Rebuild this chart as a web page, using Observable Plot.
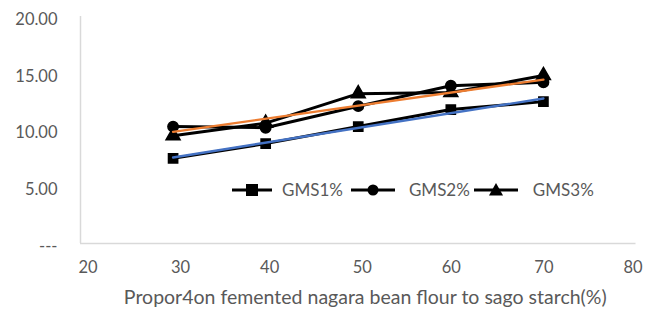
<!DOCTYPE html>
<html><head><meta charset="utf-8">
<script src="https://cdn.jsdelivr.net/npm/d3@7"></script>
<script src="https://cdn.jsdelivr.net/npm/@observablehq/plot@0.6"></script>
<style>
body{margin:0;background:#fff;font-family:Lato,"Open Sans",sans-serif;}
#wrap{position:relative;width:645px;height:313px;overflow:hidden;}
#legend{position:absolute;left:232px;top:179px;display:flex;align-items:center;color:#595959;font-size:17px;}
#legend .item{display:flex;align-items:center;}
#legend svg{display:block;}
</style></head>
<body><div id="wrap"><div id="legend"></div></div>
<script>
const proportion = [30, 40, 50, 60, 70];
const gms1 = [7.5, 8.8, 10.3, 11.8, 12.5];
const gms2 = [10.3, 10.2, 12.1, 13.9, 14.2];
const gms3 = [9.5, 10.6, 13.2, 13.3, 14.8];
const seriesNames = ["GMS1%", "GMS2%", "GMS3%"];
const xTicks = [20, 30, 40, 50, 60, 70, 80];
const yTicks = [0, 5, 10, 15, 20];
const yTickLabels = ["---", "5.00", "10.00", "15.00", "20.00"];
const xTitle = "Propor4on femented nagara bean flour to sago starch(%)";

const series = [gms1, gms2, gms3];
const symbols = ["square", "circle", "triangle"];
const rows = series.flatMap((vals, i) => vals.map((v, j) => ({x: proportion[j], y: v, s: seriesNames[i], sym: symbols[i]})));
const g1 = rows.filter(d => d.s === seriesNames[0]);
const g2 = rows.filter(d => d.s === seriesNames[1]);

const xAxisStyle = {tickSize: 0, tickPadding: 18, fontSize: 16.5, fill: "#595959", label: null};
const chart = Plot.plot({
  width: 645, height: 313,
  marginLeft: 80, marginRight: 9.5, marginTop: 16, marginBottom: 70,
  style: {fontFamily: "Lato, 'Open Sans', sans-serif", color: "#595959", background: "white"},
  x: {domain: [20, 80]},
  y: {domain: [0, 20]},
  symbol: {domain: symbols, range: ["square", "circle", "triangle"]},
  marks: [
    Plot.ruleX([20], {stroke: "#d9d9d9", strokeWidth: 1.5}),
    Plot.ruleY([0], {stroke: "#d9d9d9", strokeWidth: 1.5}),
    Plot.axisX({...xAxisStyle, ticks: xTicks.slice(0, 2), dx: 7.5}),
    Plot.axisX({...xAxisStyle, ticks: xTicks.slice(2, 4), dx: 4}),
    Plot.axisX({...xAxisStyle, ticks: xTicks.slice(4, 6), dx: 0.5}),
    Plot.axisX({...xAxisStyle, ticks: xTicks.slice(6), dx: -3}),
    Plot.axisY({ticks: yTicks, tickSize: 0, tickPadding: 23, dy: 3, fontSize: 16.5, fill: "#595959", label: null,
      tickFormat: d => yTickLabels[yTicks.indexOf(d)]}),
    Plot.line(rows, {x: "x", y: "y", z: "s", stroke: "black", strokeWidth: 3}),
    Plot.dot(rows, {x: "x", y: "y", symbol: "sym", fill: "black", stroke: "black", r: 5.2}),
    Plot.linearRegressionY(g1, {x: "x", y: "y", stroke: "#4472C4", strokeWidth: 2.4, ci: 0}),
    Plot.linearRegressionY(g2, {x: "x", y: "y", stroke: "#ED7D31", strokeWidth: 2.4, ci: 0}),
    Plot.text([xTitle], {frameAnchor: "bottom", dy: 60, dx: 7, fontSize: 19.5, fill: "#595959"})
  ]
});
document.getElementById("wrap").prepend(chart);

// legend
const leg = d3.select("#legend");
const symPaths = {
  square: s => s.append("rect").attr("x", 15).attr("y", 4).attr("width", 12).attr("height", 12),
  circle: s => s.append("circle").attr("cx", 21).attr("cy", 10).attr("r", 5.5),
  triangle: s => s.append("path").attr("d", "M21,3 L28,15.5 L14,15.5 Z")
};
const gaps = [[40, 10, 8], [44, 14, 4], [44, 15, 0]];
seriesNames.forEach((name, i) => {
  const it = leg.append("div").attr("class", "item");
  const w = gaps[i][0];
  const sv = it.append("svg").attr("width", w).attr("height", 20).attr("fill", "black");
  sv.append("line").attr("x1", 0).attr("x2", w).attr("y1", 10).attr("y2", 10).attr("stroke", "black").attr("stroke-width", 3);
  const sym = symPaths[symbols[i]](sv);
  sym.attr("transform", `translate(${w/2 - 21},0)`);
  it.append("span").style("margin-left", gaps[i][1] + "px").style("margin-right", gaps[i][2] + "px").text(name);
});
</script></body></html>
